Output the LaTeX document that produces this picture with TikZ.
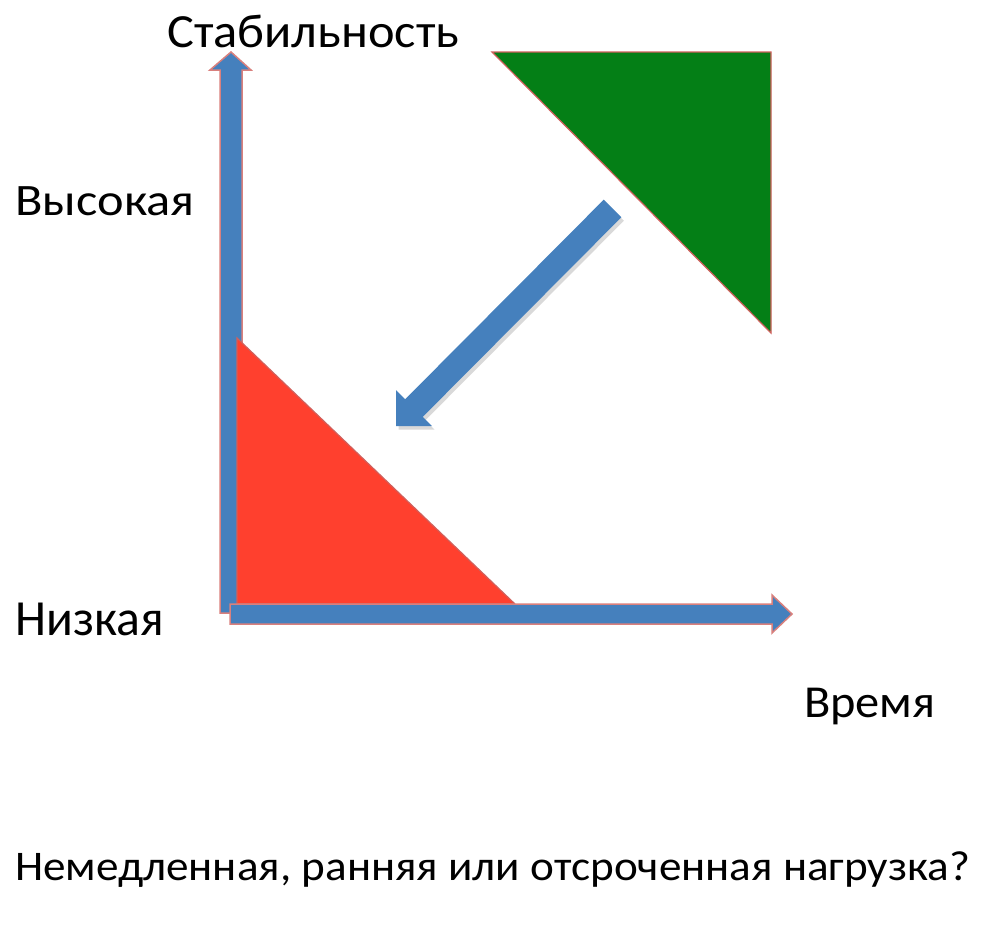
\documentclass[tikz,border=0pt]{standalone}
\usepackage{fontspec}
\setmainfont{Carlito}
\definecolor{axisblue}{HTML}{4580BD}
\definecolor{edgered}{HTML}{D0605C}
\definecolor{trired}{HTML}{FF402E}
\definecolor{trigreen}{HTML}{047F16}
\tikzset{
  axis/.style={fill=axisblue, draw=edgered!80, line width=1.5pt, line join=miter},
  tri/.style={draw=edgered, line width=1.2pt, line join=miter},
  lbl/.style={anchor=base west, inner sep=0pt, text=black},
}
\begin{document}
\begin{tikzpicture}[x=1pt,y=-1pt]
\useasboundingbox[fill=white] (0,0) rectangle (981,929);
% vertical axis
\draw[axis] (220,613) -- (220,70) -- (210,70) -- (231,52) -- (251,70) -- (242,70) -- (242,613) -- cycle;
% red triangle
\fill[trired] (237,338) -- (237,604) -- (515,604) -- cycle;
\draw[tri] (237,604) -- (237,338) -- (515,604);
\draw[tri] (237,604) -- (515,604);
% horizontal axis
\draw[axis] (230,604) -- (772,604) -- (772,595) -- (792,614) -- (772,633) -- (772,624) -- (230,624) -- cycle;
% green triangle
\draw[tri, fill=trigreen] (492,52) -- (771,52) -- (771,333) -- cycle;
% diagonal arrow shadow
\fill[black, opacity=0.15] (606.2,203.2) -- (407.7,402.7) -- (398.5,393.5) -- (398.5,429.5) -- (434.5,429.5) -- (425.3,420.3) -- (623.8,220.8) -- cycle;
% diagonal arrow
\fill[axisblue] (603.7,199.7) -- (405.2,399.2) -- (396,390) -- (396,426) -- (432,426) -- (422.8,416.8) -- (621.3,217.3) -- cycle;
% labels
\node[lbl, font=\fontsize{40}{48}\selectfont] (stab) at (167,47) {\scalebox{1.26}[1.19]{Стабильность}};
\node[lbl, font=\fontsize{42}{50}\selectfont] (high) at (15,215) {\scalebox{1.2}[1.07]{Высокая}};
\node[lbl, font=\fontsize{44}{52}\selectfont] (low) at (15,635) {\scalebox{1.13}[1.15]{Низкая}};
\node[lbl, font=\fontsize{44}{52}\selectfont] (time) at (804,717) {\scalebox{1.1}[1.04]{Время}};
\node[lbl, font=\fontsize{40}{48}\selectfont] (q) at (15,880) {\resizebox{955pt}{28.8pt}{Немедленная, ранняя или отсроченная нагрузка?}};
\end{tikzpicture}
\end{document}
